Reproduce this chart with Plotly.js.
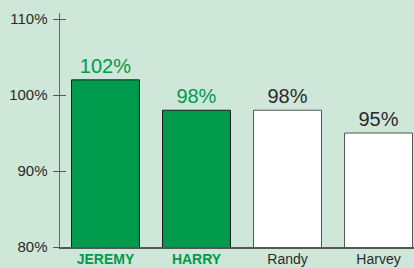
<!DOCTYPE html>
<html>
<head>
<meta charset="utf-8">
<script src="https://cdn.plot.ly/plotly-3.0.1.min.js"></script>
<style>html,body{margin:0;padding:0;background:#cfe7d9;}#chart{width:414px;height:268px;}</style>
</head>
<body>
<div id="chart"></div>
<script>
const categories = ["JEREMY", "HARRY", "Randy", "Harvey"];
const values = [102, 98, 98, 95];
const valueLabels = ["102%", "98%", "98%", "95%"];
const highlighted = [true, true, false, false];
const yTickVals = [80, 90, 100, 110];
const yTickText = ["80%", "90%", "100%", "110%"];

const green = "#009a4c";
const dark = "#2a2a2a";
const idx = categories.map((c, i) => i);

const trace = {
  type: "bar",
  x: idx,
  y: values,
  base: 0,
  width: 0.747,
  marker: {
    color: highlighted.map(h => h ? green : "#ffffff"),
    line: { color: highlighted.map(h => h ? "#1a1a1a" : "#555555"), width: 1 }
  },
  text: valueLabels,
  textposition: "outside",
  cliponaxis: false,
  textfont: { family: "Liberation Sans, Arial, sans-serif", size: 20, color: highlighted.map(h => h ? green : dark) },
  hoverinfo: "none"
};

const layout = {
  width: 414, height: 268,
  margin: { l: 60, r: 0, t: 13, b: 21, pad: 0 },
  paper_bgcolor: "#cfe7d9",
  plot_bgcolor: "#cfe7d9",
  showlegend: false,
  xaxis: {
    range: [-0.5, 3.39],
    tickvals: idx,
    ticktext: categories.map((c, i) => highlighted[i]
      ? `<b><span style="color:${green}">${c}</span></b>`
      : c),
    tickfont: { family: "Liberation Sans, Arial, sans-serif", size: 14, color: dark },
    ticks: "",
    ticklabelstandoff: -1,
    showline: true, linecolor: "#555555", linewidth: 1.5,
    showgrid: false, zeroline: false, fixedrange: true
  },
  yaxis: {
    range: [80, 110.8],
    tickvals: yTickVals,
    ticktext: yTickText,
    tickfont: { family: "Liberation Sans, Arial, sans-serif", size: 15, color: dark },
    ticks: "outside", ticklen: 6, tickcolor: "#555555", tickwidth: 1,
    ticklabelstandoff: 2,
    showline: true, linecolor: "#666666", linewidth: 1.5,
    showgrid: false, zeroline: false, fixedrange: true
  },
  yaxis2: {
    overlaying: "y",
    range: [80, 110.8],
    tickvals: yTickVals,
    showticklabels: false,
    ticks: "inside", ticklen: 6, tickcolor: "#555555", tickwidth: 1,
    showline: false, showgrid: false, zeroline: false, side: "left", fixedrange: true
  }
};

const dummy = { type: "scatter", x: [0], y: [90], yaxis: "y2", mode: "markers", marker: { opacity: 0 }, hoverinfo: "none" };

Plotly.newPlot("chart", [trace, dummy], layout, { staticPlot: true, displayModeBar: false });
</script>
</body>
</html>
